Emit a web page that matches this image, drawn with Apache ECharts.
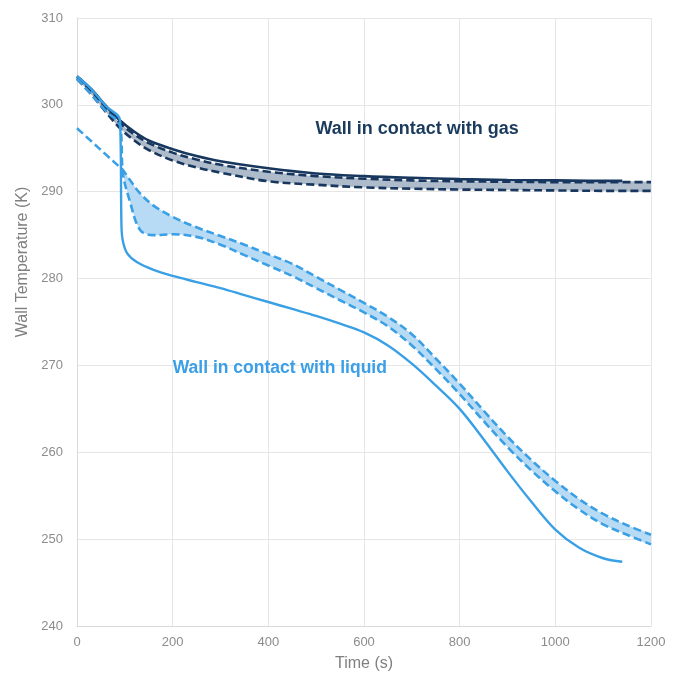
<!DOCTYPE html>
<html>
<head>
<meta charset="utf-8">
<script src="https://cdn.jsdelivr.net/npm/echarts@6/dist/echarts.min.js"></script>
<style>
html,body{margin:0;padding:0;background:#fff;}
#chart{width:684px;height:681px;}
</style>
</head>
<body>
<div id="chart"></div>
<script>
// ---- Data ----
const xTicks = [0, 200, 400, 600, 800, 1000, 1200];
const yTicks = [240, 250, 260, 270, 280, 290, 300, 310];

// Gas wall
const gasTime = [0, 30, 60, 90, 120, 150, 200, 250, 300, 400, 500, 600, 700, 800, 900, 1000, 1100, 1200];
const gasDashUpper = [303.2, 301.6, 299.7, 297.9, 296.6, 295.6, 294.5, 293.7, 293.1, 292.3, 291.8, 291.5, 291.3, 291.2, 291.15, 291.1, 291.1, 291.1];
const gasDashLower = [303.0, 301.2, 299.2, 297.3, 295.9, 294.8, 293.6, 292.8, 292.2, 291.2, 290.8, 290.5, 290.35, 290.25, 290.2, 290.15, 290.1, 290.1];
const gasSolidTime = [0, 30, 60, 90, 120, 150, 200, 250, 300, 400, 500, 600, 700, 800, 900, 1000, 1100, 1140];
const gasSolid = [303.3, 301.8, 299.9, 298.2, 296.9, 295.9, 294.9, 294.1, 293.5, 292.7, 292.1, 291.8, 291.6, 291.45, 291.35, 291.3, 291.25, 291.25];

// Liquid wall
const liqTime = [0, 30, 60, 90, 96, 110, 132, 160, 200, 250, 300, 350, 400, 450, 500, 550, 600, 650, 700, 750, 800, 850, 900, 950, 1000, 1050, 1100, 1150, 1200];
const liqDashUpper = [297.3, 295.8, 294.3, 292.8, 292.5, 291.4, 289.8, 288.4, 287.1, 285.9, 284.9, 283.9, 282.8, 281.7, 280.2, 278.7, 277.2, 275.6, 273.6, 270.8, 267.9, 264.8, 261.8, 259.1, 256.7, 254.6, 252.9, 251.6, 250.5];
const liqDashLower = [303.0, 301.2, 299.3, 297.6, 292.1, 289.0, 285.6, 285.0, 285.1, 284.8, 283.9, 282.7, 281.5, 280.3, 278.9, 277.5, 276.1, 274.5, 272.3, 269.6, 266.7, 263.6, 260.6, 257.9, 255.5, 253.4, 251.7, 250.5, 249.4];
const liqSolidTime = [0, 30, 60, 90, 93, 96, 105, 125, 160, 200, 250, 300, 350, 400, 450, 500, 550, 600, 650, 700, 750, 800, 850, 900, 950, 1000, 1050, 1100, 1140];
const liqSolid = [303.3, 301.8, 299.9, 298.2, 286.0, 284.3, 282.9, 281.9, 281.0, 280.3, 279.6, 278.9, 278.1, 277.3, 276.5, 275.7, 274.8, 273.8, 272.3, 270.2, 267.7, 265.0, 261.5, 257.8, 254.3, 251.1, 249.0, 247.8, 247.4];
const liqBandStart = 96; // shading between liquid dashed curves starts here

const labelTexts = ['Wall in contact with gas', 'Wall in contact with liquid'];
const labelTimes = [711, 424];
const labelTemps = [297.2, 269.7];

// ---- Build ----
const pairs = (xs, ys) => xs.map((x, i) => [x, ys[i]]);
const gasColor = '#17375e';
const liqColor = '#3aa0e6';
const gasFill = '#aebbca';
const liqFill = '#b8dbf5';
const font = 'Arial, "Liberation Sans", sans-serif';
const sm = 0.35;

function bandSeries(times, upper, lower, startT, fill) {
  const idx = times.map((t, i) => i).filter(i => times[i] >= startT);
  const data = idx.map(i => [times[i], upper[i], lower[i]]);
  return {
    type: 'custom', z: 1, silent: true, clip: true,
    encode: {x: 0, y: [1, 2]},
    data: data,
    renderItem: function (params, api) {
      if (params.dataIndex !== 0) return null;
      const top = data.map(d => api.coord([d[0], d[1]]));
      const bot = data.map(d => api.coord([d[0], d[2]])).reverse();
      return {
        type: 'polygon',
        shape: {points: top.concat(bot), smooth: 0.3},
        style: {fill: fill, stroke: null}
      };
    }
  };
}

const chart = echarts.init(document.getElementById('chart'), null, {renderer: 'canvas'});
chart.setOption({
  backgroundColor: '#ffffff',
  animation: false,
  grid: {left: 77, right: 33, top: 18, bottom: 55},
  xAxis: {
    type: 'value', min: xTicks[0], max: xTicks[xTicks.length - 1], interval: 200,
    name: 'Time (s)', nameLocation: 'middle', nameGap: 30,
    nameTextStyle: {color: '#7f7f7f', fontSize: 16, fontFamily: font},
    axisLine: {lineStyle: {color: '#d9d9d9'}},
    axisTick: {show: false},
    axisLabel: {color: '#8c8c8c', fontSize: 13, fontFamily: font, margin: 10,
                formatter: v => String(v)},
    splitLine: {lineStyle: {color: '#e6e6e6'}}
  },
  yAxis: {
    type: 'value', min: yTicks[0], max: yTicks[yTicks.length - 1], interval: 10,
    name: 'Wall Temperature (K)', nameLocation: 'middle', nameGap: 46,
    nameTextStyle: {color: '#7f7f7f', fontSize: 16, fontFamily: font, padding: [0, 0, 0, 120]},
    axisLine: {show: true, lineStyle: {color: '#d9d9d9'}},
    axisTick: {show: false},
    axisLabel: {color: '#8c8c8c', fontSize: 13, fontFamily: font, margin: 14,
                formatter: v => String(v)},
    splitLine: {lineStyle: {color: '#e6e6e6'}}
  },
  series: [
    bandSeries(gasTime, gasDashUpper, gasDashLower, 0, gasFill),
    bandSeries(liqTime, liqDashUpper, liqDashLower, liqBandStart, liqFill),

    {type: 'line', data: pairs(gasTime, gasDashLower), symbol: 'none', smooth: sm, z: 3,
     lineStyle: {color: gasColor, width: 2.6, type: [8, 4]}},
    {type: 'line', data: pairs(gasTime, gasDashUpper), symbol: 'none', smooth: sm, z: 3,
     lineStyle: {color: gasColor, width: 2.6, type: [8, 4]}},
    {type: 'line', data: pairs(gasSolidTime, gasSolid), symbol: 'none', smooth: sm, z: 3,
     lineStyle: {color: gasColor, width: 2.6}},

    {type: 'line', data: pairs(liqTime, liqDashLower), symbol: 'none', smooth: sm, z: 4,
     lineStyle: {color: liqColor, width: 2.6, type: [8, 4]}},
    {type: 'line', data: pairs(liqTime, liqDashUpper), symbol: 'none', smooth: sm, z: 4,
     lineStyle: {color: liqColor, width: 2.6, type: [8, 4]}},
    {type: 'line', data: pairs(liqSolidTime, liqSolid), symbol: 'none', smooth: 0.35, z: 5,
     lineStyle: {color: liqColor, width: 2.4}},

    {type: 'scatter', symbolSize: 0, z: 6, silent: true, itemStyle: {opacity: 1},
     data: labelTexts.map((txt, i) => ({value: [labelTimes[i], labelTemps[i]],
       label: {show: true, position: 'inside', formatter: txt, opacity: 1,
               color: i === 0 ? '#1a3a5e' : '#3a9fe6',
               fontSize: i === 0 ? 18 : 17.5, fontWeight: 'bold', fontFamily: font}}))}
  ]
});
</script>
</body>
</html>
